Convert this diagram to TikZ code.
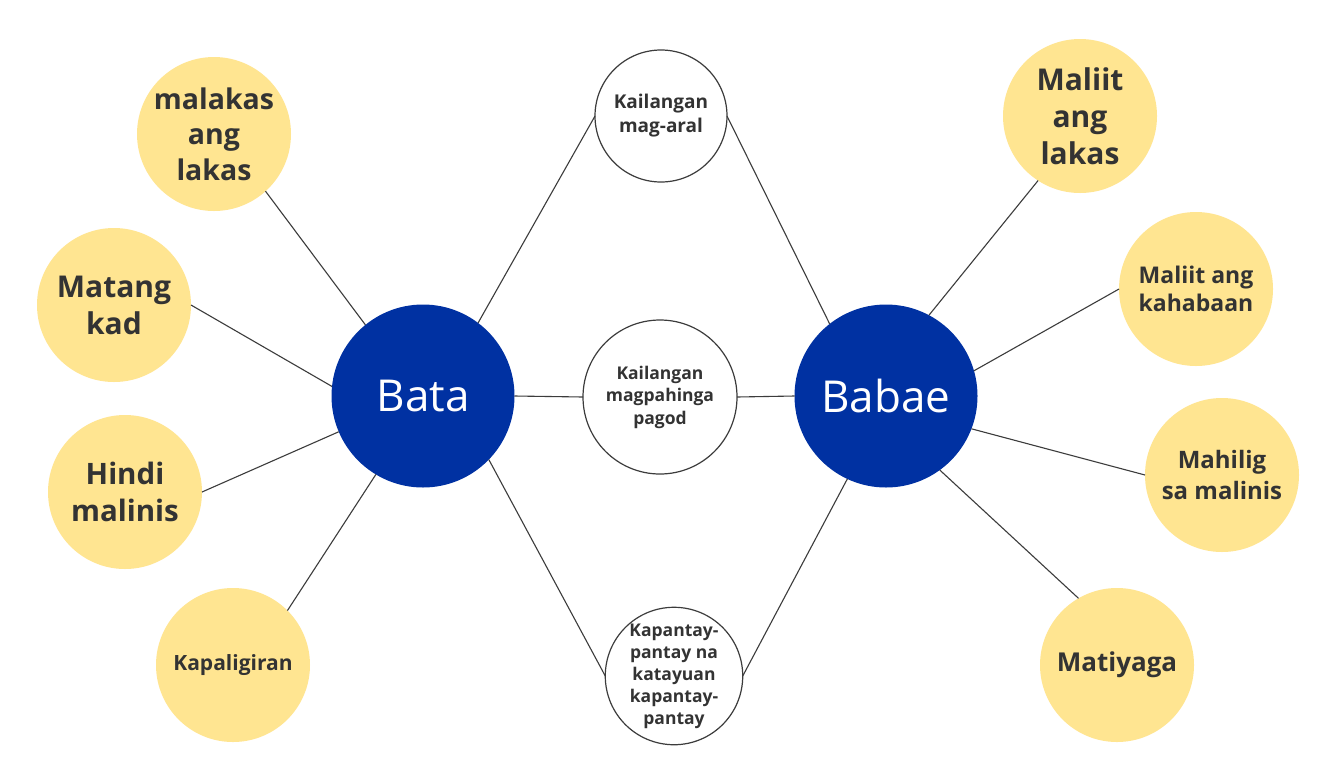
\documentclass[tikz,border=0pt]{standalone}
\usepackage{fontspec}
\setmainfont{Open Sans}
\definecolor{hubblue}{RGB}{0,49,162}
\definecolor{yfill}{RGB}{255,229,145}
\definecolor{tgray}{RGB}{51,51,51}
\definecolor{lgray}{RGB}{60,60,60}
\begin{document}
\begin{tikzpicture}[x=1pt,y=-1pt,
  hub/.style={circle, fill=hubblue, draw=none, minimum size=183pt, inner sep=0pt, outer sep=0pt, text=white, font=\fontsize{44}{52}\selectfont},
  yel/.style={circle, fill=yfill, draw=none, minimum size=154pt, inner sep=0pt, outer sep=0pt, align=center, text=tgray},
  mid/.style={circle, fill=white, draw=lgray, line width=1.2pt, inner sep=0pt, outer sep=0pt, align=center, text=tgray},
  link/.style={draw=lgray, line width=1.1pt}]
\useasboundingbox (0,0) rectangle (1338,780);
\fill[white] (0,0) rectangle (1338,780);
% hubs
\node[hub] (bata) at (423,396) {Bata};
\node[hub] (babae) at (886,396) {Babae};
% middle nodes
\node[mid, minimum size=132pt, font=\bfseries\fontsize{19}{24}\selectfont] (m1) at (661,116) {Kailangan\\mag-aral};
\node[mid, minimum size=154pt, font=\bfseries\fontsize{17.5}{22.5}\selectfont] (m2) at (660,397) {Kailangan\\magpahinga\\pagod};
\node[mid, minimum size=133pt, font=\bfseries\fontsize{17.5}{22}\selectfont] (m3) at (674,676) {Kapantay-\\pantay na\\katayuan\\kapantay-\\pantay};
% left yellow
\node[yel, font=\bfseries\fontsize{28.5}{35.5}\selectfont] (l1) at (214,134) {malakas\\ang\\lakas};
\node[yel, font=\bfseries\fontsize{30}{37}\selectfont] (l2) at (114,305) {Matang\\kad};
\node[yel, font=\bfseries\fontsize{29.5}{37}\selectfont] (l3) at (125,492) {Hindi\\malinis};
\node[yel, font=\bfseries\fontsize{21}{28}\selectfont] (l4) at (233,665) {Kapaligiran};
% right yellow
\node[yel, font=\bfseries\fontsize{30}{37}\selectfont] (r1) at (1080,116) {Maliit\\ang\\lakas};
\node[yel, font=\bfseries\fontsize{23}{28}\selectfont] (r2) at (1196,289) {Maliit ang\\kahabaan};
\node[yel, font=\bfseries\fontsize{24}{31}\selectfont] (r3) at (1222,475) {Mahilig\\sa malinis};
\node[yel, font=\bfseries\fontsize{26}{30}\selectfont] (r4) at (1117,665) {Matiyaga};
% links: Bata
\draw[link] (bata.129.7) -- (l1.312);
\draw[link] (bata.174.9) -- (l2.0);
\draw[link] (bata.203.8) -- (l3.0);
\draw[link] (bata.239.9) -- (l4.45.5);
\draw[link] (bata.53.7) -- (m1.west);
\draw[link] (bata.east) -- (m2.west);
\draw[link] (bata.-44.1) -- (m3.west);
% links: Babae
\draw[link] (babae.62.3) -- (r1.237.9);
\draw[link] (babae.16.3) -- (r2.180);
\draw[link] (babae.-21.3) -- (r3.180);
\draw[link] (babae.-54.5) -- (r4.120.6);
\draw[link] (babae.128.4) -- (m1.east);
\draw[link] (babae.west) -- (m2.east);
\draw[link] (babae.245.7) -- (m3.east);
\end{tikzpicture}
\end{document}
